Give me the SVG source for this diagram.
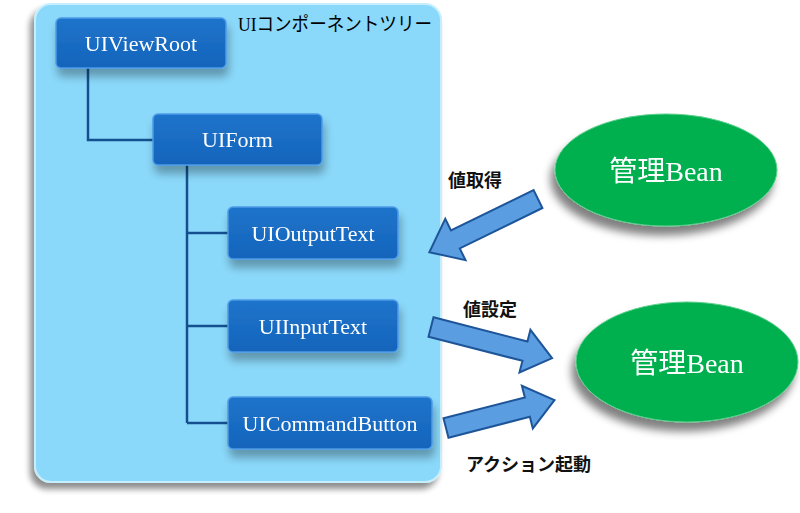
<svg xmlns="http://www.w3.org/2000/svg" width="800" height="513" viewBox="0 0 800 513">
<defs>
<filter id="shBox" x="-10%" y="-10%" width="120%" height="120%">
<feGaussianBlur in="SourceAlpha" stdDeviation="3"/>
<feOffset dx="-4" dy="6"/>
<feComponentTransfer><feFuncA type="linear" slope="0.45"/></feComponentTransfer>
<feMerge><feMergeNode/><feMergeNode in="SourceGraphic"/></feMerge>
</filter>
<filter id="shNode" x="-20%" y="-30%" width="140%" height="170%">
<feGaussianBlur in="SourceAlpha" stdDeviation="4"/>
<feOffset dx="2" dy="8"/>
<feComponentTransfer><feFuncA type="linear" slope="0.3"/></feComponentTransfer>
<feMerge><feMergeNode/><feMergeNode in="SourceGraphic"/></feMerge>
</filter>
<filter id="shEll" x="-20%" y="-30%" width="140%" height="170%">
<feGaussianBlur in="SourceAlpha" stdDeviation="4"/>
<feOffset dx="-4" dy="9"/>
<feComponentTransfer><feFuncA type="linear" slope="0.5"/></feComponentTransfer>
<feMerge><feMergeNode/><feMergeNode in="SourceGraphic"/></feMerge>
</filter>
<linearGradient id="gNode" x1="0" y1="0" x2="0" y2="1">
<stop offset="0" stop-color="#1F74CA"/>
<stop offset="1" stop-color="#1464BC"/>
</linearGradient>
</defs>
<style>
.node rect{fill:url(#gNode);stroke:#4C9BE6;stroke-width:1.5}
.nt{font-family:"Liberation Serif","Noto Sans CJK JP",serif;font-size:22px;fill:#FFFFFF;text-anchor:middle;dominant-baseline:central}
.lbl{font-family:"Liberation Serif","Noto Sans CJK JP",serif;font-size:18px;fill:#111111;font-weight:bold}
.conn{fill:none;stroke:#14508F;stroke-width:2.5}
.arr{fill:#5A9DE0;stroke:#1E5599;stroke-width:2;stroke-linejoin:miter}
.bean ellipse{fill:#00B050;stroke:#5CCF8C;stroke-width:1}
.bt{font-family:"Liberation Serif","Noto Sans CJK JP",serif;font-size:28px;fill:#FFFFFF;text-anchor:middle;dominant-baseline:central}
</style>
<rect width="800" height="513" fill="#FFFFFF"/>
<g id="tree-container">
<rect x="35" y="4" width="406" height="478" rx="16" fill="#8AD8FA" stroke="#C6EFFD" stroke-width="2" filter="url(#shBox)"/>
<text x="238" y="31" font-family="'Liberation Serif','Noto Sans CJK JP',serif" font-size="19px" fill="#000000" textLength="194" lengthAdjust="spacingAndGlyphs">UIコンポーネントツリー</text>
</g>
<g id="connectors">
<polyline class="conn" points="88,68 88,140 153,140"/>
<polyline class="conn" points="187,165 187,423"/>
<line class="conn" x1="187" y1="233" x2="228" y2="233"/>
<line class="conn" x1="187" y1="326" x2="228" y2="326"/>
<line class="conn" x1="187" y1="423" x2="228" y2="423"/>
<polygon class="arr" transform="translate(538,199) rotate(153.9)" points="0,-10 92,-10 92,-23 121,0 92,23 92,10 0,10"/>
<polygon class="arr" transform="translate(431,327) rotate(14.4)" points="0,-10 97,-10 97,-22 125,0 97,22 97,10 0,10"/>
<polygon class="arr" transform="translate(446,428) rotate(-14.4)" points="0,-10 84,-10 84,-22 112,0 84,22 84,10 0,10"/>
</g>
<g id="UIViewRoot" class="node" filter="url(#shNode)">
<rect x="56" y="18" width="170" height="50" rx="5"/>
<text class="nt" x="141" y="43">UIViewRoot</text>
</g>
<g id="UIForm" class="node" filter="url(#shNode)">
<rect x="153" y="114" width="169" height="51" rx="5"/>
<text class="nt" x="237.5" y="139.5">UIForm</text>
</g>
<g id="UIOutputText" class="node" filter="url(#shNode)">
<rect x="228" y="207" width="170" height="52" rx="5"/>
<text class="nt" x="313" y="233">UIOutputText</text>
</g>
<g id="UIInputText" class="node" filter="url(#shNode)">
<rect x="228" y="300" width="170" height="52" rx="5"/>
<text class="nt" x="313" y="326">UIInputText</text>
</g>
<g id="UICommandButton" class="node" filter="url(#shNode)">
<rect x="228" y="397" width="204" height="52" rx="5"/>
<text class="nt" x="330" y="423">UICommandButton</text>
</g>
<g id="bean1" class="bean" filter="url(#shEll)">
<ellipse cx="666" cy="170" rx="111" ry="56"/>
<text class="bt" x="666" y="171">管理Bean</text>
</g>
<g id="bean2" class="bean" filter="url(#shEll)">
<ellipse cx="687" cy="362" rx="111" ry="60"/>
<text class="bt" x="687" y="363">管理Bean</text>
</g>
<g id="labels">
<text class="lbl" x="448" y="187">値取得</text>
<text class="lbl" x="463" y="316">値設定</text>
<text class="lbl" x="466" y="471">アクション起動</text>
</g>
</svg>
